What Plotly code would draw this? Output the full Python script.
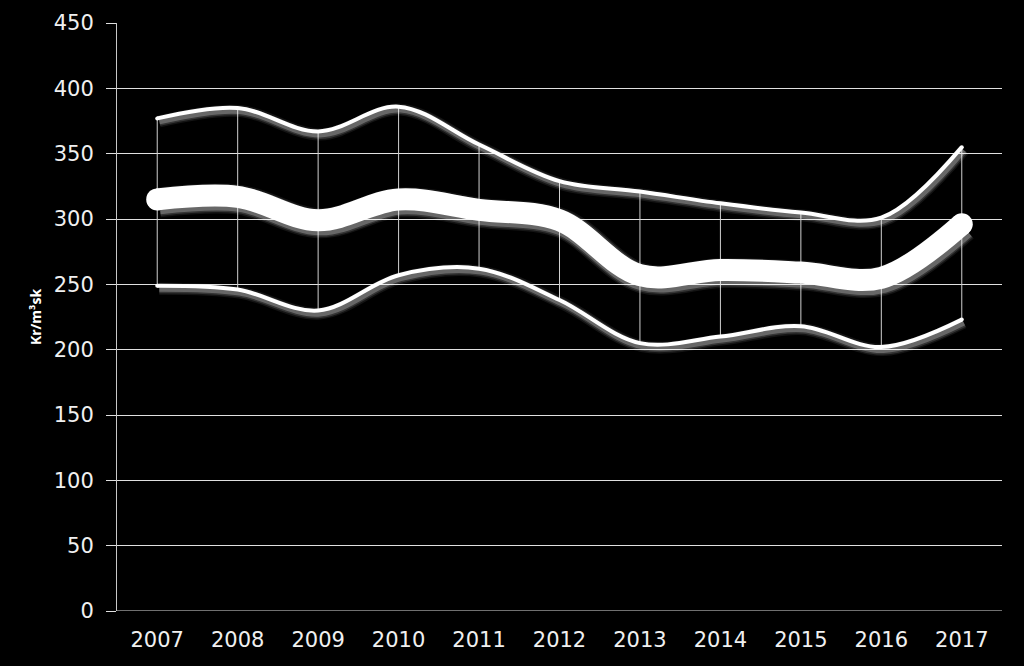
import plotly.graph_objects as go

years = ["2007", "2008", "2009", "2010", "2011", "2012", "2013", "2014", "2015", "2016", "2017"]
upper = [377, 385, 367, 386, 357, 329, 321, 312, 305, 301, 355]
middle = [315, 317, 299, 315, 307, 299, 257, 261, 259, 255, 296]
lower = [249, 246, 230, 257, 262, 238, 205, 210, 218, 202, 223]
y_ticks = [0, 50, 100, 150, 200, 250, 300, 350, 400, 450]

FONT = "DejaVu Sans"
Y_MAX = 450
PLOT_H = 666 - 23 - 55
PLOT_W = 1024 - 117 - 22
px_y = Y_MAX / PLOT_H          # data units per pixel (y)
px_x = 11 / PLOT_W             # category units per pixel (x)

fig = go.Figure()

# high-low lines
hx, hy = [], []
for yr, lo, hi in zip(years, lower, upper):
    hx += [yr, yr, None]
    hy += [lo, hi, None]
fig.add_trace(go.Scatter(x=hx, y=hy, mode="lines", line=dict(color="#d0d0d0", width=1),
                         hoverinfo="skip", showlegend=False, connectgaps=False))

# soft shadow layers (drawn on offset overlay axes)
for series, w in [(upper, 4), (lower, 4), (middle, 22)]:
    for extra, alpha in [(8, 0.08), (5, 0.14), (2, 0.25)]:
        fig.add_trace(go.Scatter(x=years, y=series, mode="lines", xaxis="x2", yaxis="y2",
                                 line=dict(color=f"rgba(255,255,255,{alpha})", width=w + extra,
                                           shape="spline", smoothing=1),
                                 hoverinfo="skip", showlegend=False))

for name, series, w in [("Högsta", upper, 4), ("Lägsta", lower, 4), ("Medel", middle, 22)]:
    fig.add_trace(go.Scatter(x=years, y=series, mode="lines", name=name,
                             line=dict(color="white", width=w, shape="spline", smoothing=1),
                             showlegend=False))

# round end caps
fig.add_trace(go.Scatter(x=[years[0], years[-1]], y=[middle[0], middle[-1]], mode="markers",
                         marker=dict(color="white", size=22), hoverinfo="skip", showlegend=False))
fig.add_trace(go.Scatter(x=[years[0], years[-1], years[0], years[-1]],
                         y=[upper[0], upper[-1], lower[0], lower[-1]], mode="markers",
                         marker=dict(color="white", size=4), hoverinfo="skip", showlegend=False))

fig.update_layout(
    width=1024, height=666,
    paper_bgcolor="black", plot_bgcolor="black",
    margin=dict(l=117, r=22, t=23, b=55),
    font=dict(family=FONT, color="#f0f0f0", size=21),
    xaxis=dict(type="category", range=[-0.5, 10.5], showgrid=False, showline=False,
               zeroline=False, ticks="", ticklabelstandoff=14,
               tickfont=dict(size=21, family=FONT, color="#f0f0f0")),
    yaxis=dict(range=[0, Y_MAX], tickvals=y_ticks, showgrid=True, gridcolor="#e0e0e0", gridwidth=1,
               zeroline=False, showline=True, linecolor="#c8c8c8", linewidth=1,
               ticks="outside", ticklen=10, tickcolor="#e0e0e0", ticklabelstandoff=8,
               tickfont=dict(size=21, family=FONT, color="#f0f0f0"),
               title=dict(text="<b>Kr/m³sk</b>", font=dict(size=14, family="Open Sans", color="white"),
                          standoff=8)),
    xaxis2=dict(type="category", overlaying="x", range=[-0.5 - 2 * px_x, 10.5 - 2 * px_x],
                visible=False, categoryorder="array", categoryarray=years),
    yaxis2=dict(overlaying="y", range=[3 * px_y, Y_MAX + 3 * px_y], visible=False),
)
fig.add_shape(type="line", xref="paper", yref="y", x0=0, x1=1, y0=0, y1=0,
              line=dict(color="#e0e0e0", width=1))

fig.write_html("out.html")
